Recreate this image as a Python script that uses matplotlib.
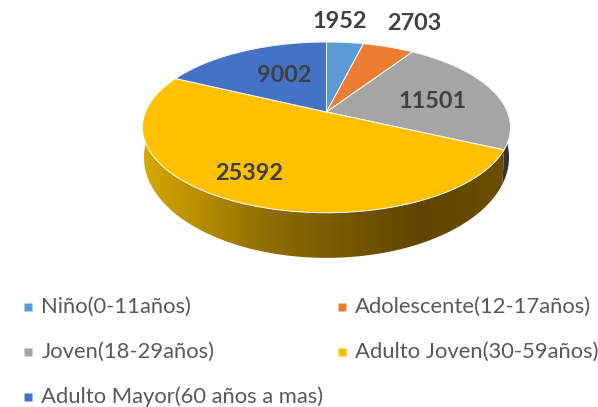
import numpy as np
import matplotlib
matplotlib.use("Agg")
import matplotlib.pyplot as plt
from matplotlib.patches import Polygon
from matplotlib.colors import to_rgb

categories = ["Niño(0-11años)", "Adolescente(12-17años)", "Joven(18-29años)",
              "Adulto Joven(30-59años)", "Adulto Mayor(60 años a mas)"]
values = [1952, 2703, 11501, 25392, 9002]
colors = ["#5B9BD5", "#ED7D31", "#A5A5A5", "#FFC000", "#4472C4"]
label_pos = [(340, 21), (414, 23), (432.5, 101), (249, 173), (284.5, 75)]
legend_pos = [(28, 307), (341.5, 307), (28, 352), (341.5, 352), (28, 397)]

CX, AY, SU, SV, K = 326.5, 112.0, 181.0, 82.6, 0.18
CY_TOP = 127.0
BOT_CY, FX, FY = 157.0, 182.5 / 184, 100 / 85

plt.rcParams["font.family"] = ["Lato", "DejaVu Sans"]
fig = plt.figure(figsize=(5.98, 4.07), dpi=100)
ax = fig.add_axes([0, 0, 1, 1])
ax.set_xlim(0, 598)
ax.set_ylim(407, 0)
ax.axis("off")


def top_pt(theta):
    u, v = np.sin(theta), np.cos(theta)
    w = 1 + K * v
    return CX + SU * u / w, AY - SV * v / w


def bot_pt(theta):
    x, y = top_pt(theta)
    return CX + FX * (x - CX), BOT_CY + FY * (y - CY_TOP)


edges = np.concatenate([[0], np.cumsum(values)]) / np.sum(values) * 2 * np.pi

# gradient shared by the gold wall
grad_x = np.linspace(140, 512, 372)
stops_x = [143, 270, 420, 505]
stops = np.array([to_rgb(c) for c in ["#D6A800", "#8F6C00", "#5F4500", "#6B4E00"]])
grad = np.stack([np.interp(grad_x, stops_x, stops[:, i]) for i in range(3)], axis=-1)[None, :, :]

# side wall
for i, col in enumerate(colors):
    ts = np.linspace(edges[i], edges[i + 1], 200)
    xt, yt = top_pt(ts)
    xb, yb = bot_pt(ts)
    pts = np.column_stack([np.r_[xt, xb[::-1]], np.r_[yt, yb[::-1]]])
    if categories[i].startswith("Adulto Joven"):
        poly = Polygon(pts, closed=True, facecolor="none", edgecolor="none", transform=ax.transData)
        ax.add_patch(poly)
        im = ax.imshow(grad, extent=(140, 512, 270, 30), aspect="auto", zorder=1,
                       interpolation="bilinear")
        im.set_clip_path(poly)
    else:
        fc = tuple(c * 0.3 for c in to_rgb(col))
        ax.add_patch(Polygon(pts, closed=True, facecolor=fc, edgecolor="none", zorder=0.9))
ax.set_xlim(0, 598)
ax.set_ylim(407, 0)

# top face
for i, col in enumerate(colors):
    ts = np.linspace(edges[i], edges[i + 1], 120)
    xs, ys = top_pt(ts)
    pts = np.column_stack([np.r_[CX, xs], np.r_[AY, ys]])
    ax.add_patch(Polygon(pts, closed=True, facecolor=col, edgecolor="white",
                         lw=0.7, zorder=2, joinstyle="round"))

for val, (x, y) in zip(values, label_pos):
    ax.text(x, y, str(val), ha="center", va="center", fontsize=16.8,
            fontweight="bold", color="#404040", zorder=3)

for cat, col, (x, y) in zip(categories, colors, legend_pos):
    ax.plot([x], [y], marker="s", ms=5.3, color=col, ls="none", mec="none")
    ax.text(x + 13.3, y - 0.5, cat, ha="left", va="center", fontsize=15.8, color="#595959")

fig.savefig("out.png", dpi=100)
